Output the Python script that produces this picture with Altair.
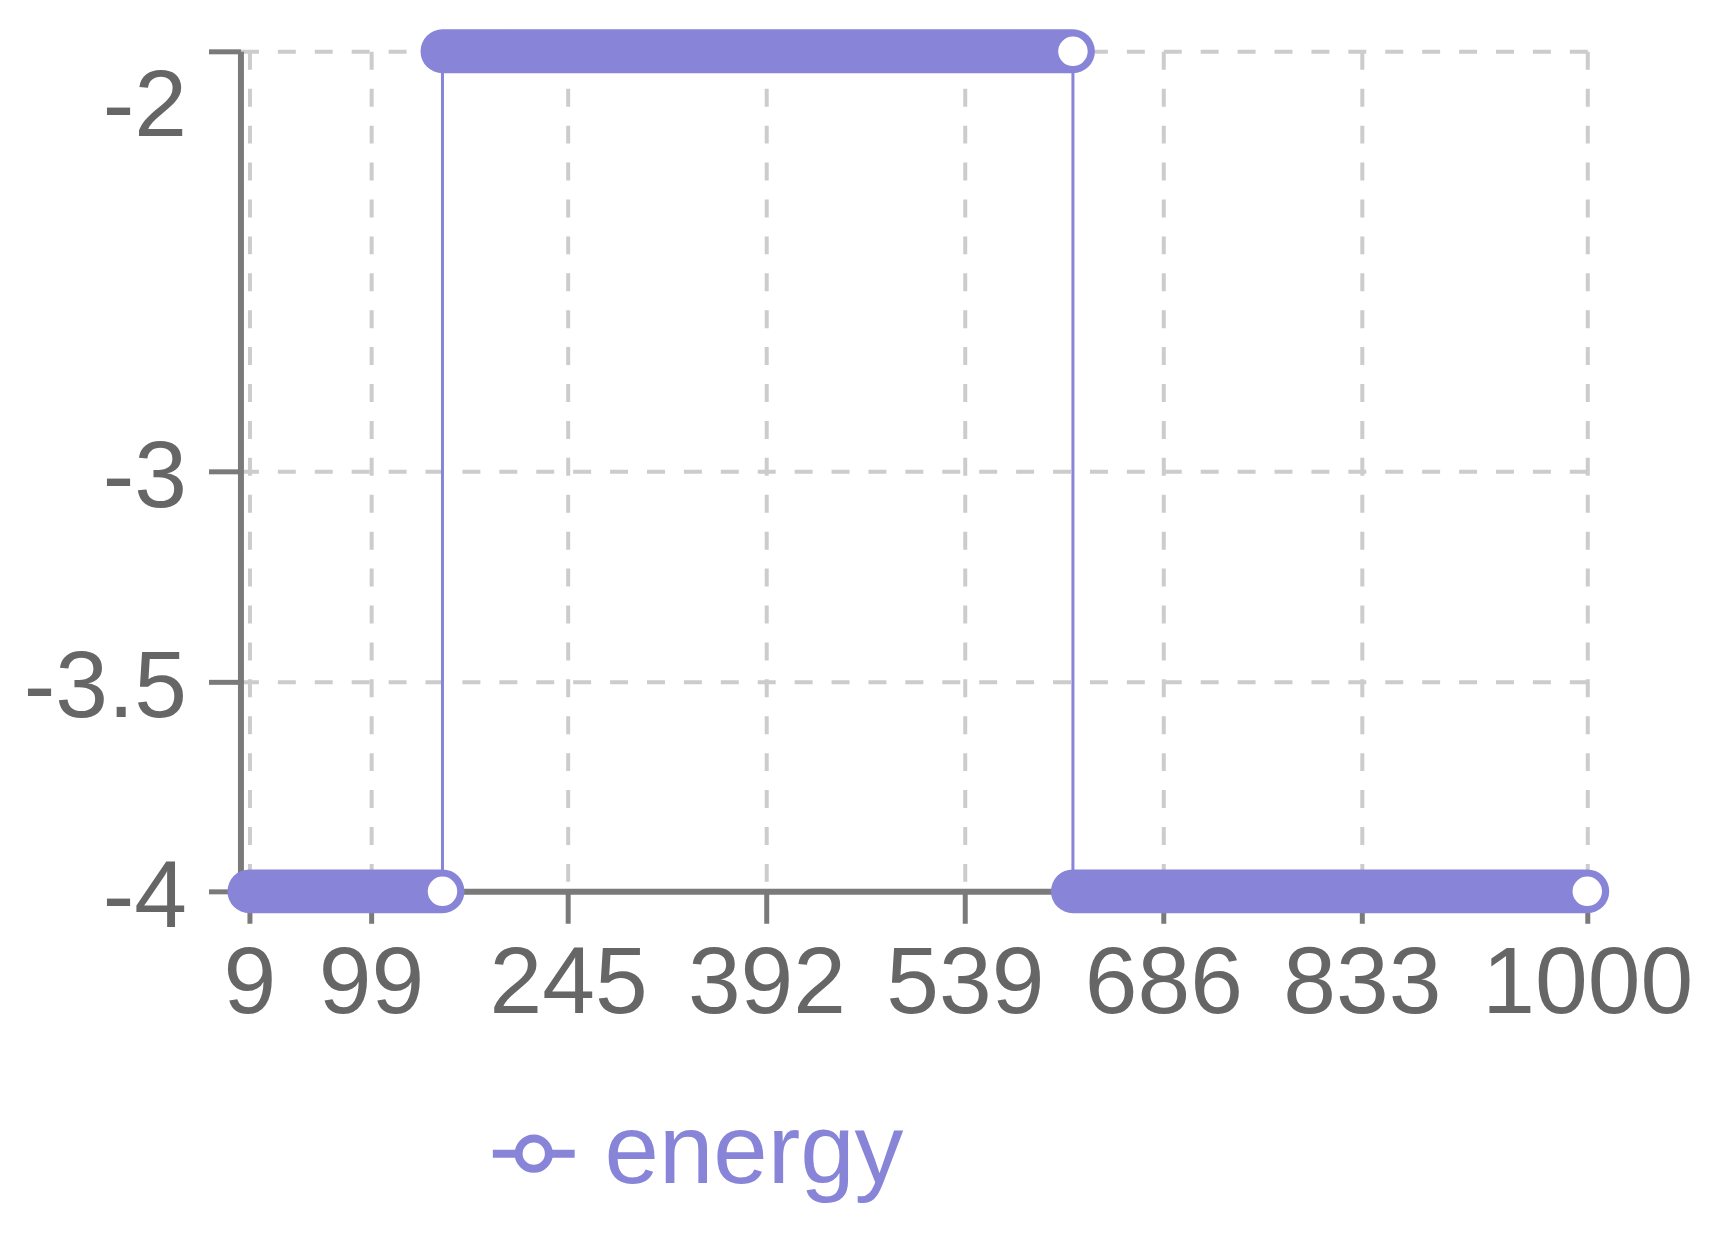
import altair as alt
import pandas as pd

# ---- data ----
seg_start = [9, 152, 619]
seg_end = [152, 619, 1000]
seg_energy = [-4, -2, -4]
series_name = "energy"

x_ticks = [9, 99, 245, 392, 539, 686, 833, 1000]
y_ticks = [-2, -3, -3.5, -4]

PURPLE = "#8884d8"
FONT = "Liberation Sans"

segs = pd.DataFrame({"start": seg_start, "end": seg_end, "energy": seg_energy})

line_rows = []
k = 0
for s, e, v in zip(seg_start, seg_end, seg_energy):
    line_rows.append({"x": s, "energy": v, "order": k, "series": series_name}); k += 1
    line_rows.append({"x": e, "energy": v, "order": k, "series": series_name}); k += 1
line_df = pd.DataFrame(line_rows)

xscale = alt.Scale(domain=[2.35, 1000], nice=False, zero=False)
yscale = alt.Scale(domain=[-4, -2], nice=False, zero=False)

xaxis = alt.Axis(
    values=x_ticks, format="d", title=None,
    labelOverlap=False, labelFlush=False, labelBound=False, labelLimit=0,
    labelPadding=14,
)
yaxis = alt.Axis(
    values=y_ticks, title=None,
    labelExpr="replace(format(datum.value, '~g'), '\u2212', '-')",
    labelOverlap=False, labelFlush=False, labelBound=False, labelLimit=0,
    labelPadding=22,
    labelOffset={"condition": {"test": "datum.value == -2", "value": 55}, "value": 6},
)

bars = alt.Chart(segs).mark_rule(
    color=PURPLE, strokeWidth=44, strokeCap="round", opacity=1
).encode(
    x=alt.X("start:Q", scale=xscale, axis=xaxis),
    x2="end:Q",
    y=alt.Y("energy:Q", scale=yscale, axis=yaxis),
)

line = alt.Chart(line_df).mark_line(strokeWidth=3).encode(
    x=alt.X("x:Q", scale=xscale, axis=xaxis),
    y=alt.Y("energy:Q", scale=yscale, axis=yaxis),
    order="order:Q",
    color=alt.Color(
        "series:N",
        scale=alt.Scale(domain=[series_name], range=[PURPLE]),
        legend=alt.Legend(
            title=None,
            orient="none",
            legendX=245,
            legendY=1056,
            padding=0,
            symbolType="M-1,0L-0.37,0M0.37,0L1,0M-0.37,0A0.37,0.37,0,1,1,0.37,0A0.37,0.37,0,1,1,-0.37,0Z",
            symbolSize=6724,
            symbolStrokeWidth=8,
            symbolFillColor="white",
            symbolStrokeColor=PURPLE,
            symbolOffset=0,
            labelOffset=22,
            labelFontSize=98,
            labelFont=FONT,
            labelColor=PURPLE,
            labelLimit=0,
        ),
    ),
)

ends = alt.Chart(segs).mark_point(
    shape="circle", size=1195, fill="white", stroke=PURPLE, strokeWidth=5,
    opacity=1, fillOpacity=1, filled=False,
).encode(
    x=alt.X("end:Q", scale=xscale, axis=xaxis),
    y=alt.Y("energy:Q", scale=yscale, axis=yaxis),
)

chart = alt.layer(bars, line, ends).properties(
    width=1350,
    height=842,
    autosize=alt.AutoSizeParams(type="none"),
    padding={"left": 233, "top": 42, "right": 120, "bottom": 320},
).configure_view(
    stroke=None
).configure_axis(
    labelFont=FONT,
    labelFontSize=95,
    labelColor="#666666",
    domainColor="#7a7a7a",
    domainWidth=6,
    tickColor="#7a7a7a",
    tickWidth=5,
    tickSize=32,
    grid=True,
    gridColor="#cccccc",
    gridWidth=4,
    gridDash=[18, 19],
    gridOpacity=1,
)

chart.save("out.html", embed_options={"renderer": "svg", "actions": False})
